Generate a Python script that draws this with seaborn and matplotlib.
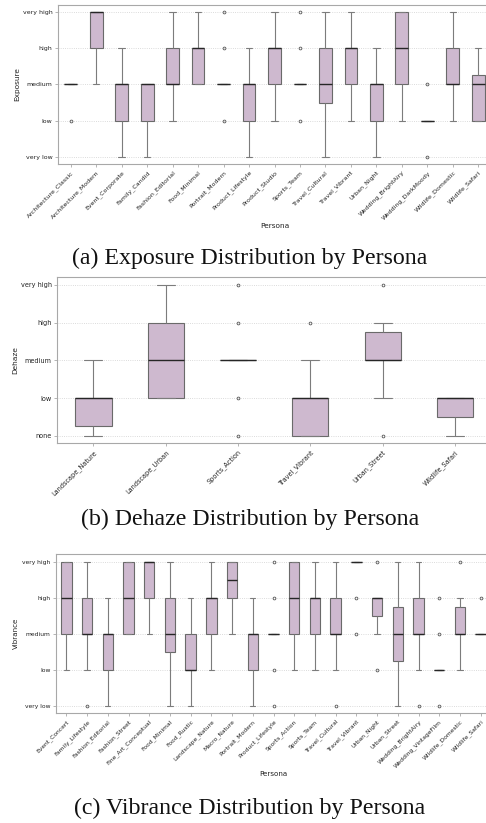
import numpy as np
import pandas as pd
import matplotlib
matplotlib.use("Agg")
import matplotlib.pyplot as plt
import seaborn as sns

# Ordinal rating scales (index = score)
RATING_LEVELS = ["very low", "low", "medium", "high", "very high"]
DEHAZE_LEVELS = ["none", "low", "medium", "high", "very high"]

# Exposure ratings: number of edits per level [very low, low, medium, high, very high]
exposure_personas = [
    "Architecture_Classic", "Architecture_Modern", "Event_Corporate", "Family_Candid",
    "Fashion_Editorial", "Food_Minimal", "Portrait_Modern", "Product_Lifestyle",
    "Product_Studio", "Sports_Team", "Travel_Cultural", "Travel_Vibrant",
    "Urban_Night", "Wedding_BrightAiry", "Wedding_DarkMoody", "Wildlife_Domestic",
    "Wildlife_Safari",
]
exposure_counts = [
    [0, 1, 6, 0, 0],
    [0, 0, 1, 1, 3],
    [1, 1, 2, 1, 0],
    [1, 1, 3, 0, 0],
    [0, 1, 2, 1, 1],
    [0, 0, 2, 2, 1],
    [0, 1, 7, 1, 1],
    [1, 1, 2, 1, 0],
    [0, 1, 1, 2, 1],
    [0, 1, 7, 1, 1],
    [1, 1, 2, 2, 1],
    [0, 1, 1, 2, 1],
    [1, 1, 2, 1, 0],
    [0, 1, 1, 1, 2],
    [1, 5, 1, 0, 0],
    [0, 1, 2, 1, 1],
    [0, 3, 3, 2, 0],
]

# Dehaze ratings: [none, low, medium, high, very high]
dehaze_personas = [
    "Landscape_Nature", "Landscape_Urban", "Sports_Action",
    "Travel_Vibrant", "Urban_Street", "Wildlife_Safari",
]
dehaze_counts = [
    [2, 3, 1, 0, 0],
    [0, 2, 1, 1, 1],
    [1, 1, 8, 1, 1],
    [3, 4, 1, 1, 0],
    [1, 1, 5, 2, 1],
    [2, 5, 0, 0, 0],
]

# Vibrance ratings: [very low, low, medium, high, very high]
vibrance_personas = [
    "Event_Concert", "Family_Lifestyle", "Fashion_Editorial", "Fashion_Street",
    "Fine_Art_Conceptual", "Food_Minimal", "Food_Rustic", "Landscape_Nature",
    "Macro_Nature", "Portrait_Modern", "Product_Lifestyle", "Sports_Action",
    "Sports_Team", "Travel_Cultural", "Travel_Vibrant", "Urban_Night",
    "Urban_Street", "Wedding_BrightAiry", "Wedding_VintageFilm",
    "Wildlife_Domestic", "Wildlife_Safari",
]
vibrance_counts = [
    [0, 1, 1, 1, 2],
    [1, 1, 4, 2, 1],
    [1, 1, 2, 1, 0],
    [0, 0, 2, 1, 2],
    [0, 0, 1, 1, 3],
    [1, 1, 2, 2, 1],
    [1, 2, 1, 1, 0],
    [0, 1, 1, 2, 1],
    [0, 0, 1, 2, 3],
    [1, 1, 2, 1, 0],
    [1, 1, 8, 1, 1],
    [0, 1, 1, 1, 2],
    [0, 1, 1, 2, 1],
    [1, 1, 4, 2, 1],
    [0, 0, 1, 1, 8],
    [0, 1, 1, 4, 1],
    [1, 1, 2, 1, 1],
    [1, 1, 4, 2, 1],
    [1, 8, 1, 1, 0],
    [0, 1, 6, 2, 1],
    [0, 0, 5, 1, 0],
]

captions = [
    "(a) Exposure Distribution by Persona",
    "(b) Dehaze Distribution by Persona",
    "(c) Vibrance Distribution by Persona",
]

BOX_FILL = "#d1b5d3"
EDGE = "#6a6a6a"
WHISKER = "#7c7c7c"
MEDIAN = "#262626"
SPINE = "#a8a8a8"

sns.set_theme(style="ticks")
plt.rcParams["font.family"] = ["DejaVu Sans"]

W, H = 486, 823
fig = plt.figure(figsize=(W / 100, H / 100), dpi=100)


def ratings_frame(personas, counts):
    rows = []
    for persona, per_level in zip(personas, counts):
        for score, n in enumerate(per_level):
            rows.extend([(persona, score)] * n)
    return pd.DataFrame(rows, columns=["Persona", "score"])


def px_axes(left, right, top, bottom):
    return fig.add_axes([left / W, 1 - bottom / H, (right - left) / W, (bottom - top) / H])


def draw_panel(ax, personas, counts, ylabel, levels, tick_fs, label_fs, xlabel=True):
    df = ratings_frame(personas, counts)
    sns.boxplot(
        data=df, x="Persona", y="score", order=personas, ax=ax,
        color=BOX_FILL, width=0.5, linewidth=0.8, linecolor=EDGE,
        whis=1.5, fliersize=2.0,
        medianprops={"color": MEDIAN, "linewidth": 1.0},
        whiskerprops={"color": WHISKER, "linewidth": 0.8},
        capprops={"color": WHISKER, "linewidth": 0.8},
        flierprops={"marker": "o", "markerfacecolor": "none",
                    "markeredgecolor": "#555555", "markeredgewidth": 0.6},
    )
    ax.set_ylim(-0.2, 4.2)
    ax.set_xlim(-0.5, len(personas) - 0.5)
    ax.set_yticks(range(len(levels)))
    ax.set_yticklabels(levels)
    ax.yaxis.grid(True, linestyle=":", color="#cfcfcf", linewidth=0.6)
    ax.xaxis.grid(False)
    ax.set_axisbelow(True)
    for side in ["left", "bottom", "top", "right"]:
        ax.spines[side].set_visible(True)
        ax.spines[side].set_color(SPINE)
        ax.spines[side].set_linewidth(0.8)
    ax.tick_params(axis="both", labelsize=tick_fs, length=2.5, width=0.6,
                   color=SPINE, pad=1.5, labelcolor="#222222")
    plt.setp(ax.get_xticklabels(), rotation=45, ha="right", rotation_mode="anchor")
    ax.set_ylabel(ylabel, fontsize=label_fs, color="#222222", labelpad=2)
    if xlabel:
        ax.set_xlabel("Persona", fontsize=label_fs, color="#222222", labelpad=2)
    else:
        ax.set_xlabel("")


ax_a = px_axes(58, 491, 5, 164)
draw_panel(ax_a, exposure_personas, exposure_counts, "Exposure", RATING_LEVELS, 4.5, 5.3)

ax_b = px_axes(57.3, 491, 277.3, 443.3)
draw_panel(ax_b, dehaze_personas, dehaze_counts, "Dehaze", DEHAZE_LEVELS, 4.7, 5.3, xlabel=False)

ax_c = px_axes(56, 491, 554.3, 713)
draw_panel(ax_c, vibrance_personas, vibrance_counts, "Vibrance", RATING_LEVELS, 4.3, 5.1)

serif = ["Liberation Serif", "DejaVu Serif"]
for text, y_px in zip(captions, [258, 519, 808]):
    fig.text(250 / W, 1 - y_px / H, text, ha="center", va="center",
             fontsize=17.2, family=serif, color="#111111")

fig.savefig("out.png", dpi=100)
